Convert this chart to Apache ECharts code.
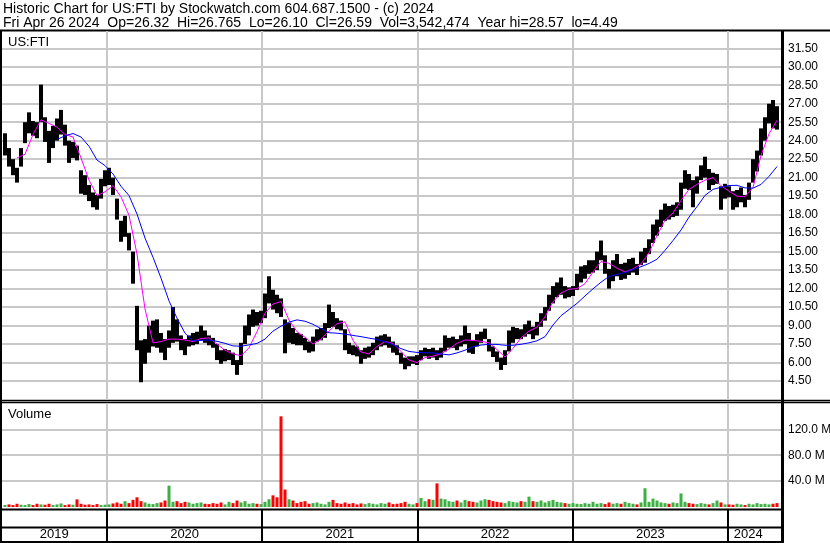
<!DOCTYPE html>
<html><head><meta charset="utf-8">
<script src="https://cdn.jsdelivr.net/npm/echarts@6/dist/echarts.min.js"></script>
<style>html,body{margin:0;padding:0;background:#fff}#c{width:830px;height:543px}</style>
</head><body><div id="c"></div><script>
const headerLine1 = 'Historic Chart for US:FTI by Stockwatch.com 604.687.1500 - (c) 2024';
const headerLine2 = 'Fri Apr 26 2024  Op=26.32  Hi=26.765  Lo=26.10  Cl=26.59  Vol=3,542,474  Year hi=28.57  lo=4.49';
const symbolLabel = 'US:FTI';
const volumeLabel = 'Volume';
const priceTicks = [4.5,6,7.5,9,10.5,12,13.5,15,16.5,18,19.5,21,22.5,24,25.5,27,28.5,30,31.5];
const volumeTicks = [40,80,120];
const yearBounds = [2020,2021,2022,2023,2024];
const yearLabelPos = [2019.66,2020.5,2021.5,2022.5,2023.5,2024.13];
const axisStart = 2019.3237, axisEnd = 2024.3414;
const barStart = 2019.343, barStep = 0.025765;   // ~9 trading days per bar
const maStart = 2019.3688, maStep = 0.05153;

const low = [
22.8,21.9,21.2,20.6,21.9,23.8,24.6,24.4,24.2,25.5,
23.9,22.2,23.4,24.0,24.5,23.6,22.2,22.6,22.4,19.7,
19.6,19.1,18.6,18.4,19.3,20.3,20.4,19.6,17.6,15.8,
16.2,15.1,12.4,7.0,4.4,5.9,6.8,7.3,7.2,6.8,
6.2,7.2,7.6,7.7,7.0,6.6,7.3,7.4,7.5,7.8,
7.6,7.4,7.2,6.2,5.9,6.1,6.2,5.8,5.0,5.8,
7.5,8.2,8.9,9.0,9.2,9.6,10.8,10.3,10.0,9.7,
6.75,7.6,7.5,7.4,7.4,7.0,6.8,6.9,7.7,7.8,
8.0,8.8,8.9,8.7,8.6,7.0,6.7,6.6,6.5,5.9,
6.3,6.4,6.6,7.0,7.3,7.4,7.2,6.8,6.6,5.9,
5.45,5.7,5.9,5.8,6.2,6.5,6.3,6.4,6.2,6.4,
6.9,7.2,7.2,7.0,7.3,7.5,6.8,6.7,7.3,7.6,
7.9,6.9,6.45,6.05,5.4,5.8,6.9,7.6,7.9,7.9,
8.1,8.3,7.9,8.2,8.9,9.4,10.2,10.8,11.3,11.5,
11.2,11.3,11.4,11.9,12.5,12.8,13.2,13.3,13.5,14.3,
13.2,12.0,12.6,13.0,12.7,12.8,13.1,13.3,13.1,13.9,
14.1,14.8,15.7,16.3,17.0,17.5,17.6,17.8,17.9,18.4,
20.1,20.0,18.6,19.7,20.8,21.0,20.0,20.4,20.5,18.4,
19.3,19.4,18.4,18.6,19.0,18.6,19.2,20.6,21.5,22.8,
24.0,25.4,25.0,24.9
];
const high = [
24.6,23.4,22.5,21.8,23.4,25.5,26.3,25.6,25.5,28.55,
25.9,24.8,25.2,25.8,26.5,25.3,24.0,23.9,23.6,21.6,
21.2,20.4,19.8,19.6,20.9,21.6,21.8,21.0,19.3,17.5,
17.9,16.5,15.0,10.6,7.8,7.9,9.0,9.4,9.5,8.4,
7.9,8.6,10.5,9.5,8.2,7.9,8.2,8.4,8.5,9.0,
8.6,8.2,8.0,7.5,7.0,7.1,7.0,6.8,6.2,7.6,
9.0,9.9,10.3,10.1,10.2,11.6,13.0,11.9,11.5,11.2,
9.5,9.2,8.8,8.4,8.3,8.0,7.7,8.1,8.7,8.8,
9.2,10.7,10.1,9.6,9.4,8.7,7.6,7.4,7.3,7.0,
7.2,7.3,7.6,8.1,8.2,8.3,8.1,7.7,7.4,6.8,
6.4,6.5,6.5,6.6,7.0,7.2,7.1,7.2,7.0,7.2,
8.2,8.0,8.1,7.9,8.2,9.0,8.4,7.8,8.3,8.5,
8.75,7.9,7.3,6.9,6.4,7.0,8.6,8.9,8.8,8.7,
9.1,9.4,8.9,9.3,10.0,10.5,11.5,12.2,12.5,12.9,
12.2,12.1,12.2,13.2,13.8,13.9,14.3,14.3,15.0,15.9,
14.7,13.6,14.3,14.8,14.0,14.1,14.4,14.5,14.0,15.0,
15.3,16.0,17.2,17.6,18.4,18.9,18.7,18.8,19.0,20.6,
21.6,21.3,20.8,21.1,22.0,22.7,21.7,21.4,21.3,20.3,
20.5,20.3,19.9,20.0,20.2,19.6,20.6,22.5,23.2,25.0,
25.9,27.0,27.3,26.8
];
const volume = [
3,4,3,5,3.5,3,4.5,3,5,4,
3.5,5,3,4,5.5,3,4,3.5,11.8,5,
3.5,4,3,4.5,3,3.5,4,5.5,7,5,
9,6,11,15,9,7,5,4.5,6,7,
10,33,8,9,6,8,7,5,6,7,
5,4.5,6,5,7,4,8,6,10,7,
9,5,6,5,4.5,8,12,18,15,140,
27,12,10,6,8,9,5,6,7,5,
4,8,11,6,5,7,5,6,4,5.5,
4.5,6,5,4,6,5,7,4.5,5,6,
8,5,4,6,14,9,12,11,36.5,13,
12,9,8,10,7,11,9,8,7,10,
12,11,9,8,7,6,9,8,7,9,
8,16,9,8,10,7,9,11,8,7,
6,5,6,5,4.5,6,5,8,5,6,
4.5,7,5,6,5,8,6,5,4,7,
29,8,13,10,7,6,5,7,6,21,
8,6,5,4.5,6,5,4,6,10,7,
4,4,3.5,5,4,3,5,4,6,4.5,
5,4,5,6
];
const maFast = [
null,22.6,22.9,24.5,25.7,25.4,25.1,24.5,24.3,22.6,
20.8,19.55,19.85,20.35,19.45,17.95,14.8,10.35,7.6,7.7,
7.9,7.9,7.83,7.7,7.95,8.0,7.5,7.0,6.7,6.55,
7.2,8.5,10.0,10.75,10.95,9.45,8.5,8.05,7.5,7.9,
8.55,9.15,9.3,7.8,6.85,6.7,7.3,7.7,7.55,6.9,
6.2,6.0,6.4,6.52,6.7,7.1,7.56,7.83,7.8,7.72,
7.6,7.05,6.45,7.15,8.0,8.55,8.88,9.7,10.92,11.65,
11.95,12.0,12.4,13.35,14.2,14.05,13.65,13.35,13.6,14.0,
14.9,16.3,17.55,18.13,19.15,20.05,20.45,20.8,21.0,20.35,
19.9,19.5,19.45,20.2,22.8,24.55,25.66
];
const maSlow = [
null,null,null,null,null,null,24.1,24.4,24.58,24.3,
23.55,22.43,21.98,21.3,20.3,19.55,18.05,16.1,14.54,12.85,
11.0,9.6,8.38,7.75,7.8,7.83,7.72,7.56,7.35,7.32,
7.43,7.55,7.9,8.55,8.95,9.28,9.46,9.35,9.1,8.75,
8.42,8.38,8.3,8.2,8.1,7.98,7.87,7.7,7.45,7.13,
6.9,6.82,6.8,6.78,6.7,6.62,6.78,7.0,7.28,7.42,
7.48,7.47,7.4,7.4,7.48,7.6,7.76,8.1,9.05,9.8,
10.3,10.8,11.4,11.98,12.52,12.98,13.15,13.3,13.55,13.77,
14.04,14.38,15.1,15.9,16.75,17.8,18.65,19.56,20.05,20.22,
20.36,20.38,20.17,20.15,20.45,21.1,21.9
];

const FONT = "'Liberation Sans', Arial, sans-serif";
const GRID_C = '#c8c8c8';
const bars = low.map((l, i) => [barStart + i * barStep, l, high[i]]);
const vols = volume.map((v, i) => [barStart + i * barStep, v,
  (i > 0 && (low[i] + high[i]) < (low[i - 1] + high[i - 1])) ? 1 : 0]);
const toLine = arr => arr.map((v, k) => [maStart + k * maStep, v]).filter(d => d[1] != null);

function xa(gi, extra) {
  return Object.assign({
    type: 'value', gridIndex: gi, min: axisStart, max: axisEnd,
    axisLine: { show: false }, axisTick: { show: false, customValues: yearBounds },
    axisLabel: { show: false },
    splitLine: { show: true, lineStyle: { color: GRID_C, width: 2 } }
  }, extra || {});
}

const chart = echarts.init(document.getElementById('c'));
chart.setOption({
  animation: false,
  backgroundColor: '#fff',
  grid: [
    { left: 2, top: 31, width: 779, height: 369, outerBoundsMode: 'none' },
    { left: 2, top: 403, width: 779, height: 104, outerBoundsMode: 'none' },
    { left: 2, top: 510, width: 779, height: 17, outerBoundsMode: 'none' }
  ],
  xAxis: [
    xa(0), xa(1),
    xa(2, {
      axisTick: { show: true, customValues: yearBounds, length: 15, inside: false,
                  lineStyle: { color: '#000', width: 2 } },
      axisLabel: { show: true, customValues: yearLabelPos, margin: 1,
                   formatter: v => String(Math.floor(v)), color: '#000',
                   fontFamily: FONT, fontSize: 13 },
      splitLine: { show: true, lineStyle: { color: '#000', width: 2 } }
    })
  ],
  yAxis: [
    { type: 'value', gridIndex: 0, position: 'right', min: 2.96, max: 32.9,
      axisLine: { show: false }, axisTick: { show: false, customValues: priceTicks },
      axisLabel: { customValues: priceTicks, margin: 7, color: '#000', fontFamily: FONT,
                   fontSize: 12, formatter: v => v.toFixed(2) },
      splitLine: { show: true, lineStyle: { color: GRID_C, width: 2 } } },
    { type: 'value', gridIndex: 1, position: 'right', min: 0, max: 160.6,
      axisLine: { show: false }, axisTick: { show: false, customValues: volumeTicks },
      axisLabel: { customValues: volumeTicks, margin: 7, color: '#000', fontFamily: FONT,
                   fontSize: 12, formatter: v => v.toFixed(1) + ' M' },
      splitLine: { show: true, lineStyle: { color: GRID_C, width: 2 } } },
    { type: 'value', gridIndex: 2, show: false }
  ],
  series: [
    { type: 'custom', xAxisIndex: 0, yAxisIndex: 0, clip: true, data: bars,
      encode: { x: 0, y: [1, 2] },
      renderItem: (params, api) => {
        const a = api.coord([api.value(0), api.value(1)]);
        const b = api.coord([api.value(0), api.value(2)]);
        return { type: 'rect', shape: { x: a[0] - 2, y: b[1], width: 4, height: Math.max(1, a[1] - b[1]) },
                 style: { fill: '#000' } };
      } },
    { type: 'line', xAxisIndex: 0, yAxisIndex: 0, data: toLine(maFast), showSymbol: false,
      lineStyle: { color: '#ff00ff', width: 1 }, z: 5 },
    { type: 'line', xAxisIndex: 0, yAxisIndex: 0, data: toLine(maSlow), showSymbol: false,
      lineStyle: { color: '#0000ff', width: 1 }, z: 5 },
    { type: 'custom', xAxisIndex: 1, yAxisIndex: 1, clip: true, data: vols,
      encode: { x: 0, y: 1 },
      renderItem: (params, api) => {
        const a = api.coord([api.value(0), 0]);
        const b = api.coord([api.value(0), api.value(1)]);
        return { type: 'rect', shape: { x: a[0] - 1.5, y: b[1], width: 3, height: Math.max(1, a[1] - b[1]) },
                 style: { fill: api.value(2) ? '#ff0000' : '#3cb043' } };
      } }
  ],
  graphic: [
    { type: 'text', left: 3, top: 2, style: { text: headerLine1, font: '14px ' + FONT, fill: '#000' } },
    { type: 'text', left: 3, top: 16, style: { text: headerLine2, font: '14px ' + FONT, fill: '#000' } },
    { type: 'text', left: 8, top: 36, style: { text: symbolLabel, font: '13px ' + FONT, fill: '#000' } },
    { type: 'text', left: 8, top: 408, style: { text: volumeLabel, font: '13px ' + FONT, fill: '#000' } },
    { type: 'line', shape: { x1: 0, y1: 30.5, x2: 830, y2: 30.5 }, style: { stroke: '#000', lineWidth: 2 } },
    { type: 'line', shape: { x1: 1, y1: 30, x2: 1, y2: 543 }, style: { stroke: '#000', lineWidth: 2 } },
    { type: 'line', shape: { x1: 782.5, y1: 30, x2: 782.5, y2: 543 }, style: { stroke: '#000', lineWidth: 3 } },
    { type: 'line', shape: { x1: 0, y1: 400.5, x2: 830, y2: 400.5 }, style: { stroke: '#000', lineWidth: 1.5 } },
    { type: 'line', shape: { x1: 0, y1: 402.5, x2: 830, y2: 402.5 }, style: { stroke: '#000', lineWidth: 1.5 } },
    { type: 'line', shape: { x1: 0, y1: 509.5, x2: 782, y2: 509.5 }, style: { stroke: '#000', lineWidth: 2 } },
    { type: 'line', shape: { x1: 0, y1: 527.5, x2: 782, y2: 527.5 }, style: { stroke: '#000', lineWidth: 2 } },
    { type: 'line', shape: { x1: 0, y1: 542, x2: 782, y2: 542 }, style: { stroke: '#000', lineWidth: 2 } }
  ]
});
</script></body></html>
